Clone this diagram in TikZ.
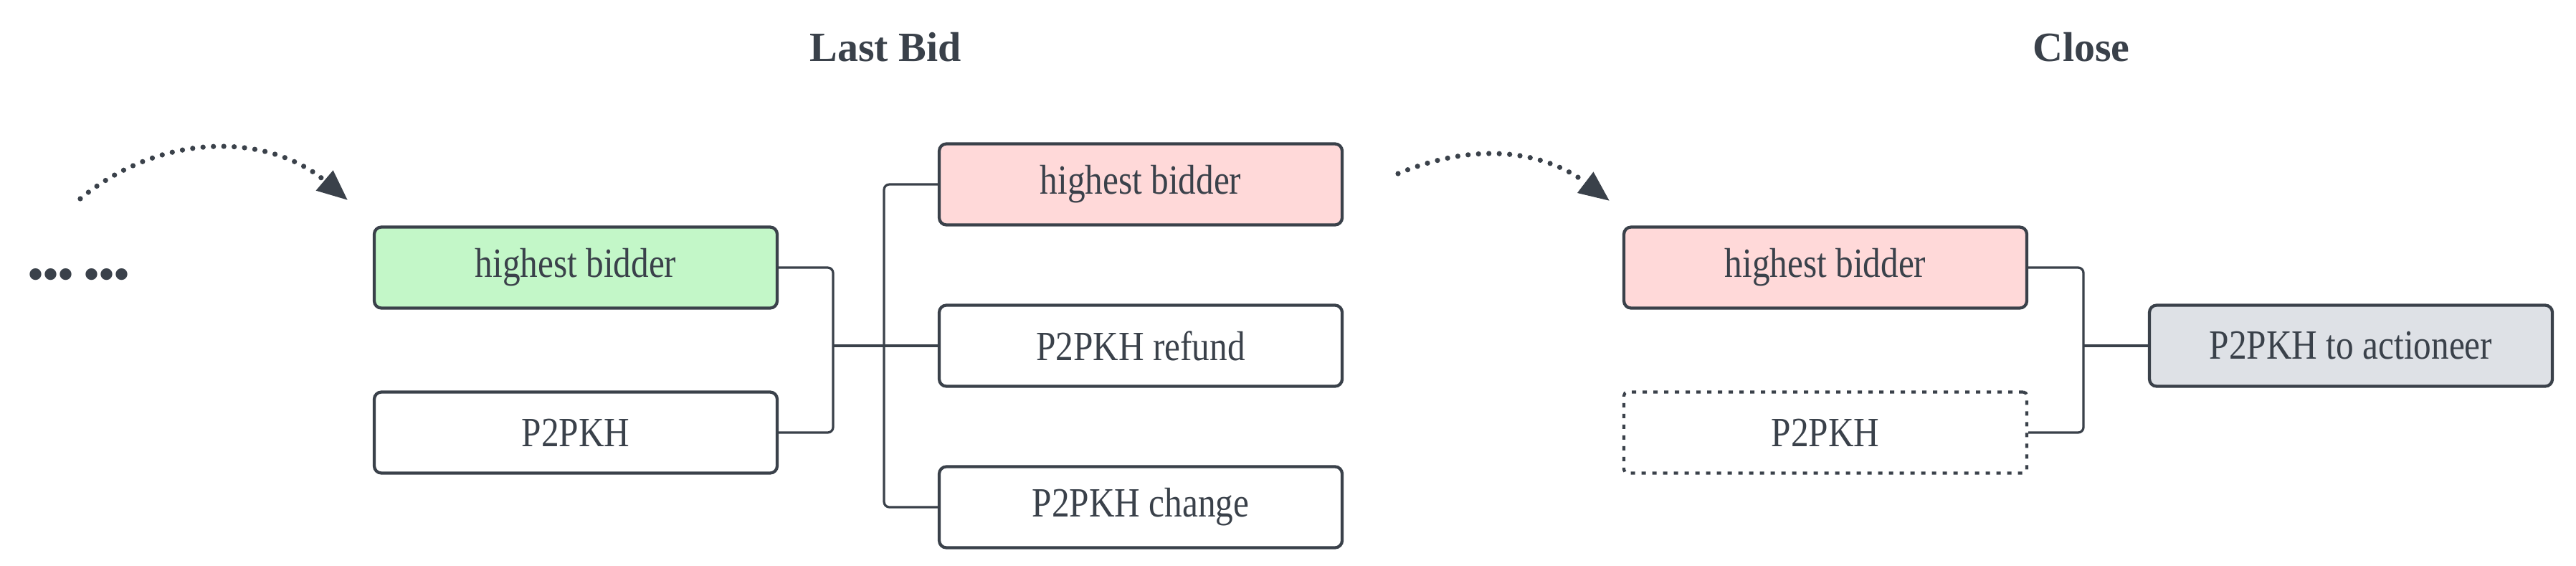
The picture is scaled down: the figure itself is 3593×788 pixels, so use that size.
\documentclass[tikz,border=0pt]{standalone}
\usepackage{fontspec}
\setmainfont{Liberation Serif}[FakeStretch=0.85]
\newfontfamily\titlefont{Liberation Serif}
\usetikzlibrary{arrows.meta}
\usetikzlibrary{positioning}
\definecolor{ink}{HTML}{3A414A}
\definecolor{wingreen}{HTML}{C3F7C8}
\definecolor{losepink}{HTML}{FFD9D9}
\definecolor{payblue}{HTML}{DEE1E6}
\tikzset{
        txbox/.style={align=center, rounded corners=2pt, draw=ink, line width=0.85pt, text=ink,
                minimum width=112.4pt, minimum height=22.6pt, inner sep=0pt, font=\fontsize{11.6}{13}\selectfont},
        % Winning input
        box_win/.style={txbox, fill=wingreen},
        % Outbid / spent input
        box_lost/.style={txbox, fill=losepink},
        % Plain output
        box_out/.style={txbox, fill=white},
        % Optional output
        box_opt/.style={txbox, fill=white, solid, dash pattern=on 1.2pt off 1.8pt, rounded corners=1pt},
        % Payout
        box_pay/.style={txbox, fill=payblue},
        % Stage titles
        stage_title/.style={text=ink, font=\titlefont\fontsize{11.6}{14}\selectfont\bfseries},
        % Connectors
        link/.style={draw=ink, line width=0.65pt, rounded corners=1.5pt},
        % Step arrows
        hop/.style={draw=ink, line width=1.45pt, line cap=round, dash pattern=on 0pt off 2.9pt,
                -{Triangle[length=8.5pt, width=7pt]}}
}
\begin{document}
\begin{tikzpicture}[x=0.2pt, y=-0.2pt]
    \useasboundingbox (0,0) rectangle (3593,788);
    % titles
    \node[stage_title] (t_bid) at (1235,66) {Last Bid};
    \node[stage_title] (t_close) at (2903,66) {Close};
    % earlier bids
    \node[text=ink, font=\titlefont\fontsize{12}{14}\selectfont\bfseries] (dots) at (110,388) {••• •••};
    \coordinate (a1s) at (112,277);
    \coordinate (a1e) at (485,279);
    \draw[hop] (a1s) to[bend left=40] (a1e);
    % last bid transaction
    \node[box_win] (hb_a) at (803,373) {highest bidder};
    \node[box_out] (pk_a) at (803,603) {P2PKH};
    \node[box_lost] (hb_b) at (1591,257) {highest bidder};
    \node[box_out] (refund) at (1591,482) {P2PKH refund};
    \node[box_out] (change) at (1591,707) {P2PKH change};
    \coordinate (j_a) at (1162,482);
    \coordinate (j_b) at (1233,482);
    \draw[link] (hb_a.east) -| (j_a) |- (pk_a.east);
    \draw[link] (j_a) -- (refund.west);
    \draw[link] (hb_b.west) -| (j_b) |- (change.west);
    \coordinate (a2s) at (1950,242);
    \coordinate (a2e) at (2245,280);
    \draw[hop] (a2s) to[bend left=30] (a2e);
    % close transaction
    \node[box_lost] (hb_c) at (2546,373) {highest bidder};
    \node[box_opt] (pk_c) at (2546,603) {P2PKH};
    \node[box_pay] (payout) at (3279,482) {P2PKH to actioneer};
    \coordinate (j_c) at (2906,482);
    \draw[link] (hb_c.east) -| (j_c) |- (pk_c.east);
    \draw[link] (j_c) -- (payout.west);
\end{tikzpicture}
\end{document}
